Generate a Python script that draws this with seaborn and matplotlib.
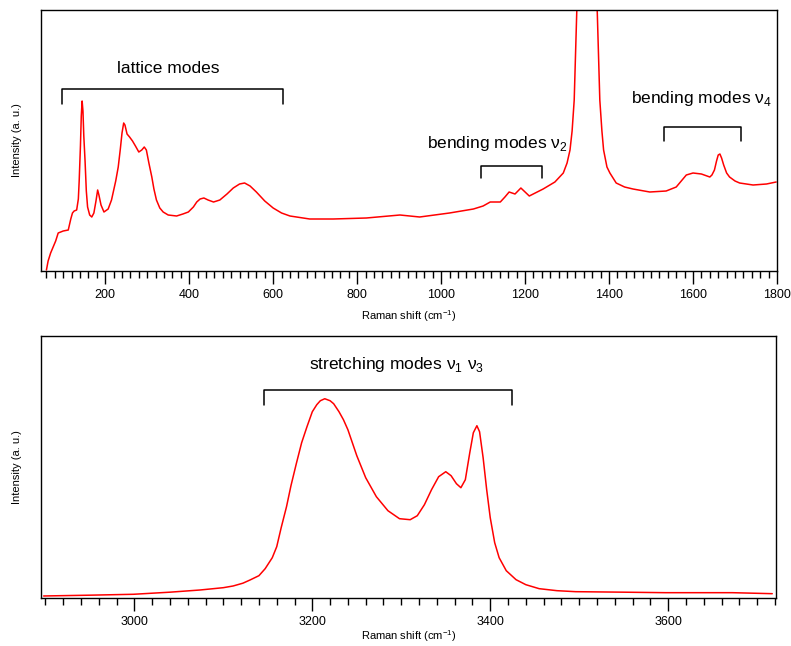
import numpy as np
import pandas as pd
import seaborn as sns
import matplotlib.pyplot as plt
from matplotlib.ticker import MultipleLocator

# low-frequency spectrum (lattice + bending region)
shift_low = [60, 64, 70, 76, 82, 88, 100, 112, 118, 122, 126, 132, 136, 138, 141,
             143, 145, 147, 149, 152, 155, 158, 163, 168, 173, 178, 182, 185, 190,
             197, 207, 215, 225, 231, 236, 240, 244, 247, 252, 258, 265, 272, 280,
             287, 293, 298, 304, 311, 316, 322, 330, 338, 350, 370, 385, 398, 410,
             418, 426, 435, 445, 458, 473, 490, 505, 520, 532, 545, 560, 580, 600,
             620, 640, 687, 743, 822, 902, 949, 1020, 1077, 1100, 1117, 1141, 1152,
             1162, 1176, 1190, 1200, 1210, 1243, 1271, 1291, 1300, 1307, 1312, 1317,
             1323, 1330, 1340, 1348, 1357, 1365, 1372, 1378, 1383, 1387, 1395, 1402,
             1417, 1437, 1457, 1497, 1536, 1560, 1570, 1584, 1600, 1620, 1640, 1645,
             1651, 1656, 1660, 1664, 1668, 1673, 1680, 1687, 1700, 1711, 1743, 1775,
             1798]
int_low = [1, 10, 18, 24, 30, 38, 40, 41, 52, 58, 60, 61, 72, 90, 125,
           155, 170, 160, 135, 110, 80, 64, 56, 54, 58, 70, 81, 76, 66,
           59, 62, 71, 90, 104, 122, 138, 148, 146, 137, 134, 130, 125, 119,
           121, 124, 121, 108, 94, 82, 71, 63, 59, 56, 55, 57, 59, 64,
           69, 72, 73, 71, 69, 71, 77, 83, 87, 88, 85, 79, 70, 63,
           58, 55, 52, 52, 53, 56, 54, 58, 62, 65, 69, 69, 74,
           79, 77, 83, 79, 75, 82, 89, 98, 108, 121, 140, 171,
           258, 330, 420, 450, 420, 330, 258, 171, 140, 121, 104, 98,
           88, 84, 82, 79, 80, 84, 89, 96, 98, 97, 94, 96,
           101, 110, 116, 117, 113, 106, 98, 94, 90, 88, 86, 87,
           89]

# high-frequency spectrum (stretching region)
shift_high = [2898, 2950, 2999, 3040, 3074, 3100, 3111, 3122, 3130, 3140, 3147, 3155,
              3160, 3165, 3171, 3176, 3182, 3188, 3194, 3200, 3205, 3209, 3214, 3220,
              3224, 3230, 3235, 3240, 3250, 3260, 3272, 3285, 3298, 3310, 3318, 3326,
              3334, 3342, 3350, 3356, 3362, 3367, 3372, 3377, 3381, 3385, 3388, 3392,
              3396, 3400, 3405, 3410, 3418, 3429, 3440, 3455, 3475, 3496, 3550, 3597,
              3672, 3717]
int_high = [1.7, 2.5, 3.4, 5.5, 7.7, 10, 11.7, 14.5, 17.7, 22, 29, 40,
            51, 70, 91, 112, 134, 155, 171, 186, 193, 197, 199, 197,
            194, 186, 178, 168, 142, 120, 101, 87, 79, 78, 82, 93,
            108, 121, 126, 122, 114, 110, 118, 145, 165, 172, 166, 140,
            108, 80, 55, 40, 27, 18, 13, 9, 7, 6, 5.5, 5,
            5, 4]

low = pd.DataFrame({"shift": shift_low, "intensity": int_low})
high = pd.DataFrame({"shift": shift_high, "intensity": int_high})

sns.set_style("ticks")
plt.rcParams['font.family'] = ['Liberation Sans', 'DejaVu Sans']
plt.rcParams['mathtext.fontset'] = 'custom'
plt.rcParams['mathtext.rm'] = 'Liberation Sans'
plt.rcParams['text.color'] = 'black'
plt.rcParams['axes.labelcolor'] = 'black'
plt.rcParams['xtick.color'] = 'black'
plt.rcParams['xtick.labelcolor'] = 'black'

fig = plt.figure(figsize=(7.91, 6.46), dpi=100)
ax1 = fig.add_axes([0.0518, 0.5805, 0.9305, 0.404])
ax2 = fig.add_axes([0.0518, 0.0748, 0.929, 0.405])

sns.lineplot(data=low, x="shift", y="intensity", ax=ax1, color="red", lw=1.1, estimator=None)
sns.lineplot(data=high, x="shift", y="intensity", ax=ax2, color="red", lw=1.1, estimator=None)

ax1.set_xlim(47, 1800)
ax1.set_ylim(0, 261)
ax2.set_xlim(2895, 3721)
ax2.set_ylim(0, 261.7)

for ax, pad in [(ax1, 5), (ax2, 0.5)]:
    ax.xaxis.set_major_locator(MultipleLocator(200))
    ax.xaxis.set_minor_locator(MultipleLocator(20))
    ax.tick_params(axis='x', which='major', length=9, width=1, labelsize=9, pad=4)
    ax.tick_params(axis='x', which='minor', length=5, width=1)
    ax.set_yticks([])
    ax.set_xlabel(r"Raman shift (cm$\mathregular{^{-1}}$)", fontsize=8, labelpad=pad)
    ax.set_ylabel("Intensity (a. u.)", fontsize=8, labelpad=14)
    for s in ax.spines.values():
        s.set_linewidth(1)
        s.set_color('black')


def bracket(ax, x0, x1, y, leg, label, tx, ty):
    ax.plot([x0, x0, x1, x1], [y - leg, y, y, y - leg], color='black', lw=1.1)
    ax.text(tx, ty, label, ha='center', va='center', fontsize=12.5, color='black')


bracket(ax1, 97, 623, 181.7, 14.7, "lattice modes", 350, 203)
bracket(ax1, 1094, 1241, 105, 11.7, r"bending modes ν$_{2}$", 1135, 128)
bracket(ax1, 1530, 1715, 144.3, 14, r"bending modes ν$_{4}$", 1620, 173)
bracket(ax2, 3146, 3425, 207.7, 15, r"stretching modes ν$_{1}$ ν$_{3}$", 3295, 233.7)

fig.savefig("out.png", dpi=100)
